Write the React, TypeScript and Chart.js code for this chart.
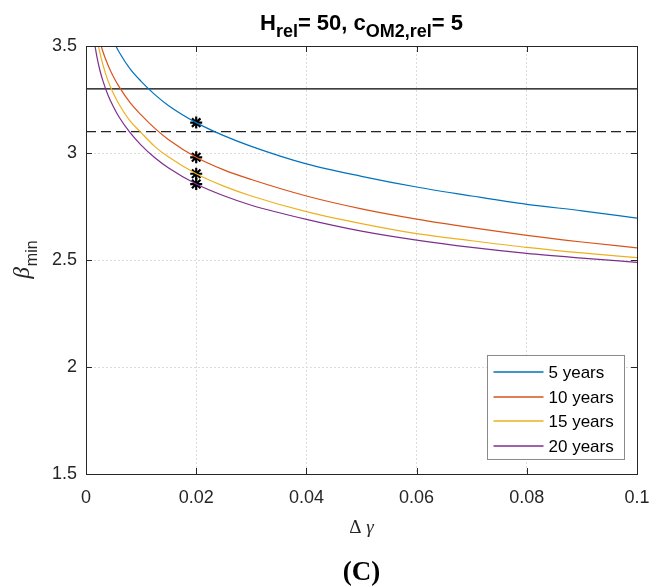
import React, { useEffect, useRef } from "react";
import { Chart, registerables } from "chart.js";

Chart.register(...registerables);

// Δγ sample positions
const dGamma = [0.0015, 0.002, 0.0025, 0.003, 0.004, 0.005, 0.006, 0.008, 0.01, 0.0125, 0.015, 0.02, 0.025, 0.03, 0.04, 0.05, 0.06, 0.07, 0.08, 0.09, 0.1];
// β_min per service life
const beta5 = [3.852, 3.773, 3.712, 3.662, 3.583, 3.522, 3.472, 3.393, 3.335, 3.273, 3.221, 3.142, 3.081, 3.031, 2.949, 2.891, 2.841, 2.799, 2.76, 2.73, 2.696];
const beta10 = [3.661, 3.586, 3.527, 3.479, 3.41, 3.355, 3.31, 3.235, 3.178, 3.115, 3.062, 2.98, 2.921, 2.876, 2.799, 2.739, 2.691, 2.651, 2.615, 2.584, 2.557];
const beta15 = [3.615, 3.534, 3.471, 3.419, 3.337, 3.277, 3.228, 3.15, 3.095, 3.03, 2.981, 2.903, 2.845, 2.799, 2.726, 2.67, 2.623, 2.59, 2.559, 2.533, 2.511];
const beta20 = [3.521, 3.447, 3.389, 3.343, 3.27, 3.215, 3.168, 3.095, 3.037, 2.978, 2.93, 2.855, 2.8, 2.756, 2.69, 2.635, 2.593, 2.559, 2.531, 2.509, 2.489];

const seriesLabels = ["5 years", "10 years", "15 years", "20 years"];
const seriesColors = ["#0072BD", "#D95319", "#EDB120", "#7E2F8E"];

// selected points (asterisks)
const markerX = [0.02, 0.02, 0.02, 0.02];
const markerY = [3.142, 2.98, 2.903, 2.855];

// reference levels
const solidLevel = 3.3;
const dashedLevel = 3.1;

const xMin = 0, xMax = 0.1, xStep = 0.02;
const yMin = 1.5, yMax = 3.5, yStep = 0.5;

const SANS = '"Liberation Sans", Arial, Helvetica, sans-serif';
const SERIF = '"Liberation Serif", "Times New Roman", serif';
const AXIS_COLOR = "#262626";

const decorPlugin = {
  id: "decor",
  afterDraw(chart: any) {
    const { ctx, chartArea } = chart;
    const { left, right, top, bottom } = chartArea;
    const xs = chart.scales.x;
    const ys = chart.scales.y;
    ctx.save();

    // box
    ctx.strokeStyle = AXIS_COLOR;
    ctx.lineWidth = 1;
    ctx.setLineDash([]);
    ctx.strokeRect(Math.round(left) + 0.5, Math.round(top) + 0.5, Math.round(right - left), Math.round(bottom - top));

    // inward ticks
    const tl = 6;
    ctx.beginPath();
    xs.ticks.forEach((t: any) => {
      const px = Math.round(xs.getPixelForValue(t.value)) + 0.5;
      ctx.moveTo(px, bottom);
      ctx.lineTo(px, bottom - tl);
      ctx.moveTo(px, top);
      ctx.lineTo(px, top + tl);
    });
    ys.ticks.forEach((t: any) => {
      const py = Math.round(ys.getPixelForValue(t.value)) + 0.5;
      ctx.moveTo(left, py);
      ctx.lineTo(left + tl, py);
      ctx.moveTo(right, py);
      ctx.lineTo(right - tl, py);
    });
    ctx.stroke();

    // title with subscripts
    const cx = (left + right) / 2;
    const mainFont = `bold 22px ${SANS}`;
    const subFont = `bold 18px ${SANS}`;
    const segs: [string, boolean][] = [
      ["H", false],
      ["rel", true],
      ["= 50, c", false],
      ["OM2,rel", true],
      ["= 5", false],
    ];
    let total = 0;
    const widths = segs.map(([t, sub]) => {
      ctx.font = sub ? subFont : mainFont;
      const w = ctx.measureText(t).width;
      total += w;
      return w;
    });
    let x = cx - total / 2;
    ctx.fillStyle = "#000";
    ctx.textAlign = "left";
    ctx.textBaseline = "alphabetic";
    segs.forEach(([t, sub], i) => {
      ctx.font = sub ? subFont : mainFont;
      ctx.fillText(t, x, sub ? 37 : 30);
      x += widths[i];
    });

    // y label β_min
    ctx.save();
    const betaFont = `italic 23px ${SERIF}`;
    const minFont = `16px ${SANS}`;
    ctx.font = betaFont;
    const wb = ctx.measureText("β").width;
    ctx.font = minFont;
    const wm = ctx.measureText("min").width;
    const cy = (top + bottom) / 2;
    ctx.translate(29, cy + (wb + wm) / 2);
    ctx.rotate(-Math.PI / 2);
    ctx.fillStyle = AXIS_COLOR;
    ctx.font = betaFont;
    ctx.fillText("β", 0, 0);
    ctx.font = minFont;
    ctx.fillText("min", wb + 1, 8);
    ctx.restore();

    // x label Δ γ
    ctx.fillStyle = AXIS_COLOR;
    const dFont = `19px ${SERIF}`;
    const gFont = `italic 19px ${SERIF}`;
    ctx.font = dFont;
    const wd = ctx.measureText("Δ ").width;
    ctx.font = gFont;
    const wg = ctx.measureText("γ").width;
    const lx = cx - (wd + wg) / 2;
    ctx.font = dFont;
    ctx.fillText("Δ ", lx, 533);
    ctx.font = gFont;
    ctx.fillText("γ", lx + wd, 533);

    // panel label
    ctx.fillStyle = "#000";
    ctx.font = `bold 27px ${SERIF}`;
    ctx.textAlign = "center";
    ctx.fillText("(C)", cx, 580);

    // legend
    const lw = 137, lh = 104;
    const lL = Math.round(right - 13 - lw) + 0.5;
    const lT = Math.round(bottom - 15 - lh) + 0.5;
    ctx.fillStyle = "#fff";
    ctx.fillRect(lL, lT, lw, lh);
    ctx.strokeStyle = "#8a8a8a";
    ctx.lineWidth = 1;
    ctx.strokeRect(lL, lT, lw, lh);
    ctx.textAlign = "left";
    ctx.textBaseline = "middle";
    ctx.font = `17px ${SANS}`;
    seriesLabels.forEach((lab, i) => {
      const ry = Math.round(lT + 16.5 + i * 24.5);
      ctx.strokeStyle = seriesColors[i];
      ctx.lineWidth = 1.6;
      ctx.beginPath();
      ctx.moveTo(lL + 6, ry);
      ctx.lineTo(lL + 56, ry);
      ctx.stroke();
      ctx.fillStyle = "#000";
      ctx.fillText(lab, lL + 61, ry + 1);
    });

    ctx.restore();
  },
};

export default function App() {
  const ref = useRef<HTMLCanvasElement | null>(null);

  useEffect(() => {
    document.body.style.margin = "0";
    const canvas = ref.current;
    if (!canvas) return;

    const curves = [beta5, beta10, beta15, beta20].map((vals, i) => ({
      label: seriesLabels[i],
      data: dGamma.map((g, j) => ({ x: g, y: vals[j] })),
      borderColor: seriesColors[i],
      borderWidth: 1.2,
      pointRadius: 0,
      fill: false,
      cubicInterpolationMode: "monotone" as const,
    }));

    const chart = new Chart(canvas, {
      type: "line",
      data: {
        datasets: [
          ...curves,
          {
            label: "limit solid",
            data: [
              { x: xMin, y: solidLevel },
              { x: xMax, y: solidLevel },
            ],
            borderColor: "#000",
            borderWidth: 1.2,
            pointRadius: 0,
          },
          {
            label: "limit dashed",
            data: [
              { x: xMin, y: dashedLevel },
              { x: xMax, y: dashedLevel },
            ],
            borderColor: "#222",
            borderWidth: 1.2,
            borderDash: [10, 5],
            pointRadius: 0,
          },
          {
            label: "selected",
            data: markerX.map((mx, i) => ({ x: mx, y: markerY[i] })),
            showLine: false,
            pointStyle: "star",
            pointRadius: 6,
            pointBorderWidth: 2.2,
            pointBorderColor: "#000",
            pointBackgroundColor: "#000",
          } as any,
        ],
      },
      options: {
        responsive: false,
        animation: false,
        layout: { padding: { left: 0, right: 32, top: 46, bottom: 0 } },
        plugins: {
          legend: { display: false },
          title: { display: false },
          tooltip: { enabled: false },
        },
        scales: {
          x: {
            type: "linear",
            min: xMin,
            max: xMax,
            ticks: {
              stepSize: xStep,
              autoSkip: false,
              maxRotation: 0,
              padding: 13,
              color: AXIS_COLOR,
              font: { family: SANS, size: 18 },
              callback: (v: any) => String(Number(Number(v).toFixed(2))),
            },
            grid: { color: "#dcdcdc", lineWidth: 1, drawTicks: false },
            border: { display: false, dash: [2, 2] },
            afterFit: (s: any) => {
              s.height = 113;
            },
          },
          y: {
            type: "linear",
            min: yMin,
            max: yMax,
            ticks: {
              stepSize: yStep,
              autoSkip: false,
              padding: 9,
              color: AXIS_COLOR,
              font: { family: SANS, size: 18 },
              callback: (v: any) => String(Number(Number(v).toFixed(1))),
            },
            grid: { color: "#dcdcdc", lineWidth: 1, drawTicks: false },
            border: { display: false, dash: [2, 2] },
            afterFit: (s: any) => {
              s.width = 86;
            },
          },
        },
      },
      plugins: [decorPlugin],
    });

    return () => chart.destroy();
  }, []);

  return <canvas ref={ref} width={669} height={587} style={{ display: "block" }} />;
}
